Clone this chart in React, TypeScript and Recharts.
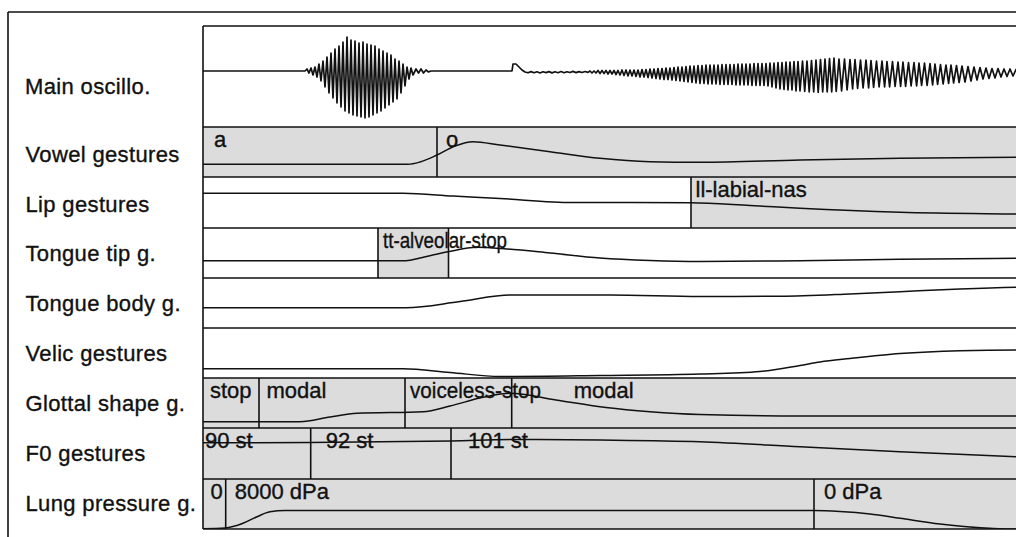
import React from 'react';
import { ComposedChart, Line, XAxis, YAxis, ReferenceArea, ReferenceLine } from 'recharts';

// time axis: 0..830 (ms), 1 unit per pixel, plot starts at x=203
const T_MAX = 830;

const tierNames = [
  'Vowel gestures', 'Lip gestures', 'Tongue tip g.', 'Tongue body g.',
  'Velic gestures', 'Glottal shape g.', 'F0 gestures', 'Lung pressure g.',
];

// gestures: [start, end, label, active]
type Gesture = [number, number, string, boolean];

const vowelGestures: Gesture[] = [[0, 234, 'a', true], [234, 830, 'o', true]];
const lipGestures: Gesture[] = [[0, 488, '', false], [488, 830, 'll-labial-nas', true]];
const tongueTipGestures: Gesture[] = [[0, 175, '', false], [175, 245.5, 'tt-alveolar-stop', true], [245.5, 830, '', false]];
const tongueBodyGestures: Gesture[] = [[0, 830, '', false]];
const velicGestures: Gesture[] = [[0, 830, '', false]];
const glottalGestures: Gesture[] = [
  [0, 56, 'stop', true], [56, 202, 'modal', true], [202, 308.7, 'voiceless-stop', true], [308.7, 830, 'modal', true],
];
const f0Gestures: Gesture[] = [[0, 107.7, '90 st', true], [107.7, 248, '92 st', true], [248, 830, '101 st', true]];
const lungGestures: Gesture[] = [[0, 22.7, '0', true], [22.7, 611, '8000 dPa', true], [611, 830, '0 dPa', true]];

// tier trajectories: [t, value]
const vowelCurve = [[0, 12.7], [205, 12.7], [217, 15], [234, 22], [252, 31], [270, 35.3], [297, 32], [347, 25.3], [397, 18.7], [447, 15.3], [497, 14.7], [597, 17], [697, 18.7], [813, 19.7], [830, 19.8]];
const lipCurve = [[0, 34.7], [200, 34.7], [250, 32], [297, 29.5], [370, 25.5], [488, 25.3], [547, 22.5], [597, 19.7], [697, 15.7], [813, 14], [830, 13.8]];
const tongueTipCurve = [[0, 17.3], [203, 17.3], [217, 20], [245, 26.3], [274, 30.7], [304, 29], [347, 25], [397, 20], [447, 17.5], [497, 16.5], [597, 17.3], [697, 18.7], [813, 19.7], [830, 19.8]];
const tongueBodyCurve = [[0, 20.3], [203, 20.3], [257, 26.5], [307, 33], [407, 33], [497, 31.5], [577, 31.7], [647, 34], [697, 36.3], [757, 39], [813, 40.7], [830, 41]];
const velicCurve = [[0, 9.3], [200, 9.3], [247, 5.5], [297, 1.5], [397, 2.5], [497, 4], [557, 6.5], [597, 12.5], [617, 16], [647, 19.5], [697, 24.5], [757, 27.3], [813, 28], [830, 28]];
const glottalCurve = [[0, 6.3], [97, 6.3], [127, 11], [154, 14.7], [220, 16.3], [247, 22], [280, 30.7], [307, 34.7], [353, 28], [403, 20.5], [447, 16.3], [497, 13.5], [597, 12], [813, 12], [830, 12]];
const f0Curve = [[0, 36.3], [107, 36.5], [248, 38], [317, 39.5], [397, 39], [497, 37.3], [597, 32.3], [697, 27.3], [813, 22.3], [830, 21.5]];
const lungCurve = [[0, 0.3], [22, 1], [40, 5.7], [54, 12.3], [67, 17.3], [82, 18.5], [611, 18.5], [637, 17.5], [667, 15], [697, 10.7], [737, 5], [764, 2.3], [813, 0], [830, 0]];

// main oscillogram samples: [t, amplitude]
const oscilloSamples = [
  [0, 0], [102, 0],
  [104, 2], [106, -2], [108, 3], [110, -4], [112, 4], [114, -6], [116, 7], [118, -10],
  [120, 10], [122, -16], [124, 14], [126, -22], [128, 18], [130, -27], [132, 22], [134, -32],
  [136, 25], [138, -36], [140, 29], [142, -40], [144, 34], [146, -42], [148, 31], [150, -44],
  [152, 30], [154, -45], [156, 28], [158, -46], [160, 29], [162, -47], [164, 27], [166, -46],
  [168, 26], [170, -44], [172, 25], [174, -42], [176, 22], [178, -40], [180, 20], [182, -37],
  [184, 18], [186, -34], [188, 16], [190, -31], [192, 12], [194, -28], [196, 10], [198, -22],
  [200, 7], [202, -15], [204, 4], [206, -8], [208, 3], [210, -4], [213, 2], [215.5, -2],
  [218, 2], [220.5, -2], [223, 1], [225.5, -1], [228, 0],
  [309, 0], [310, 7], [313, 7], [316, 4], [319, 1],
  [322, -1], [325, -1.8], [328, -0.6], [331, -1.8], [334, -0.8], [337, -2], [340, -0.7], [343, -1.6],
  [346, -0.6], [349, -1.9], [352, -0.8], [355, -1.7], [358, -0.5], [361, -1.8], [364, -0.7], [367, -1.5],
  [370, -0.4], [373, -1.6], [376, -0.6], [379, -1.5], [382, -0.5], [385, -1.4],
  [387, 0], [389, -2], [391, 0], [393, -2], [395, 0.5], [397, -2.5], [399, 0.5], [401, -2.5],
  [403, 0.5], [405, -3], [407, 0.5], [409, -3], [411, 0.5], [413, -3.5], [415, 0.5], [417, -4],
  [419, 1], [421, -4.5], [423, 1], [425, -5], [427, 1], [429, -5], [431, 1], [433, -5.5],
  [435, 1], [437, -6], [439, 1.5], [441, -6], [443, 1.5], [445, -6.5], [447, 2], [449, -7],
  [451, 2], [453, -7.5], [455, 2.5], [457, -8], [459, 2.5], [461, -8.5], [463, 3], [465, -8.5],
  [467, 3], [469, -9], [471, 3.5], [473, -9.5], [475, 4], [477, -10], [479, 4], [481, -10.5],
  [483, 4.5], [485, -11], [487, 5], [489, -11.5], [491, 5], [493, -12], [495, 5.5], [497, -12.5],
  [499, 5.5], [501, -12.5], [503, 6], [505, -13], [507, 6], [509, -13], [511, 6], [513, -13],
  [515, 6], [517, -13.5], [519, 6.5], [521, -13.5], [523, 6.5], [525, -13.5], [527, 6.5], [529, -13.5],
  [531, 6.5], [533, -14], [535, 7], [537, -14], [539, 7], [541, -14], [543, 7], [545, -14],
  [547, 7], [549, -14.5], [551, 7.5], [553, -14.5], [555, 7.5], [557, -14.5], [559, 7.5], [561, -14.5],
  [563, 7.5], [565, -15], [567, 8], [569, -16], [571, 8], [573, -17], [575, 8.5], [577, -18],
  [579, 8.5], [581, -18.5], [583, 9], [585, -19], [587, 9], [589, -19], [591, 9.5], [593, -20],
  [595, 9.5], [597, -20],
  [599.5, 10], [601.7, -20.5], [604, 10], [606.2, -21], [608.5, 10.5], [610.7, -21], [613, 11], [615.2, -21.5],
  [617.5, 11.5], [619.7, -21], [622, 12], [624.2, -21], [626.5, 12.5], [628.7, -21], [631, 13], [633.2, -20.5],
  [636, 12], [638.6, -20], [641.5, 12], [644.1, -19], [647, 11.5], [649.6, -18], [652, 11.5], [654.6, -17.5],
  [657.5, 11], [660.1, -17], [663, 11], [665.6, -17], [668, 10.5], [670.6, -16.5], [673.5, 10], [676.1, -16],
  [679, 10], [681.6, -16], [684, 9.5], [686.6, -16], [689.5, 9.5], [692.1, -15.5], [695, 9], [697.6, -15.5],
  [700, 9], [702.6, -15.5], [705.5, 8.5], [708.1, -15], [711, 8.5], [713.6, -15], [716, 8], [718.6, -14.5],
  [721.5, 8], [724.1, -14.5], [727, 7.5], [729.6, -14], [732, 7], [734.6, -13.5], [737.5, 6.5], [740.1, -13],
  [743, 6], [745.6, -12.5], [748, 6], [750.6, -12], [753.5, 5.5], [756.1, -11.5],
  [759, 5], [762, -11], [765, 4.5], [768, -10], [771, 4], [774, -9], [777, 3.5], [780, -8],
  [783, 3], [786, -7.5], [789, 2.5], [792, -7], [795, 2.5], [798, -6], [801, 2], [804, -5.5],
  [807, 2], [810, -5], [813, 1.5], [816, -4.5], [819, 1.5], [822, -4], [825, 1], [828, -3.5],
];

const tiers = [
  { gestures: vowelGestures, curve: vowelCurve },
  { gestures: lipGestures, curve: lipCurve },
  { gestures: tongueTipGestures, curve: tongueTipCurve },
  { gestures: tongueBodyGestures, curve: tongueBodyCurve },
  { gestures: velicGestures, curve: velicCurve },
  { gestures: glottalGestures, curve: glottalCurve },
  { gestures: f0Gestures, curve: f0Curve },
  { gestures: lungGestures, curve: lungCurve },
];

// layout
const FONT = '"Liberation Sans", Arial, Helvetica, sans-serif';
const INK = '#111';
const GRAY = '#dcdcdc';
const PLOT_LEFT = 203;
const PLOT_TOP = 26;
const OSC_BOTTOM = 127;
const ROW_TOPS = [127, 177, 228, 278, 328, 378, 428, 479];
const ROW_BOTTOM = 529;
const NAME_BASELINES = [161.5, 211.5, 260.5, 310.5, 360.7, 410.5, 460.5, 510.5];
// horizontal offset of each gesture label from its gesture start (tier-gesture)
const LABEL_DX: Record<string, number> = {
  '0-0': 11, '0-1': 9, '1-1': 4.5, '2-1': 5,
  '5-0': 7, '5-1': 7.5, '5-2': 5, '5-3': 62,
  '6-0': 2, '6-1': 15, '6-2': 17,
  '7-0': 7.5, '7-1': 9, '7-2': 10,
};
// a few labels are squeezed in the original
const LABEL_LEN: Record<string, number> = { '2-1': 124, '5-2': 131 };

const toPts = (arr: number[][]) => arr.map(([t, v]) => ({ t, v }));

const Tier = ({ idx, gestures, curve, top, height }: any) => (
  <div style={{ position: 'absolute', left: PLOT_LEFT, top, width: T_MAX, height }}>
    <ComposedChart width={T_MAX} height={height} margin={{ top: 0, right: 0, bottom: 0, left: 0 }}>
      <XAxis type="number" dataKey="t" domain={[0, T_MAX]} hide allowDataOverflow />
      <YAxis type="number" domain={[0, height]} hide allowDataOverflow />
      {gestures.map((g: Gesture, i: number) => g[3] ? (
        <ReferenceArea key={`a${i}`} x1={g[0]} x2={g[1]} fill={GRAY} fillOpacity={1} stroke="none" />
      ) : null)}
      {gestures.map((g: Gesture, i: number) => g[2] ? (
        <ReferenceArea
          key={`l${i}`}
          x1={g[0]}
          x2={g[1]}
          fillOpacity={0}
          shape={(p: any) => {
            const len = LABEL_LEN[`${idx}-${i}`];
            return (
              <text
                x={p.x + (LABEL_DX[`${idx}-${i}`] ?? 6)}
                y={p.y + 20}
                fontFamily={FONT}
                fontSize={22}
                fill={INK}
                stroke={INK}
                strokeWidth={0.35}
                textLength={len}
                lengthAdjust={len ? 'spacingAndGlyphs' : undefined}
              >
                {g[2]}
              </text>
            );
          }}
        />
      ) : null)}
      {gestures.filter((g: Gesture) => g[0] > 0).map((g: Gesture, i: number) => (
        <ReferenceLine key={`b${i}`} x={g[0]} stroke={INK} strokeWidth={1.6} />
      ))}
      <Line
        data={toPts(curve)}
        dataKey="v"
        type="monotone"
        stroke={INK}
        strokeWidth={1.5}
        dot={false}
        activeDot={false}
        isAnimationActive={false}
      />
    </ComposedChart>
  </div>
);

export default function App() {
  const oscHeight = OSC_BOTTOM - PLOT_TOP;
  return (
    <div style={{ position: 'absolute', left: 0, top: 0, width: 1016, height: 537, overflow: 'hidden', background: '#fff' }}>
      <div style={{ position: 'absolute', left: PLOT_LEFT, top: PLOT_TOP, width: T_MAX, height: oscHeight }}>
        <ComposedChart width={T_MAX} height={oscHeight} margin={{ top: 0, right: 0, bottom: 0, left: 0 }}>
          <XAxis type="number" dataKey="t" domain={[0, T_MAX]} hide allowDataOverflow />
          <YAxis type="number" domain={[-56, 45]} hide allowDataOverflow />
          <Line
            data={toPts(oscilloSamples)}
            dataKey="v"
            type="linear"
            stroke={INK}
            strokeWidth={1.7}
            strokeLinejoin="round"
            dot={false}
            activeDot={false}
            isAnimationActive={false}
          />
        </ComposedChart>
      </div>
      {tiers.map((tier, i) => (
        <Tier
          key={i}
          idx={i}
          gestures={tier.gestures}
          curve={tier.curve}
          top={ROW_TOPS[i]}
          height={(ROW_TOPS[i + 1] ?? ROW_BOTTOM) - ROW_TOPS[i]}
        />
      ))}
      <svg width={1016} height={537} style={{ position: 'absolute', left: 0, top: 0 }}>
        <g stroke={INK} strokeWidth={1.6} fill="none">
          <line x1={8} y1={12} x2={1016} y2={12} />
          <line x1={8} y1={12} x2={8} y2={537} />
          <line x1={PLOT_LEFT} y1={PLOT_TOP} x2={PLOT_LEFT} y2={ROW_BOTTOM} />
          <line x1={PLOT_LEFT} y1={PLOT_TOP} x2={1016} y2={PLOT_TOP} />
          {ROW_TOPS.map((y) => (
            <line key={y} x1={PLOT_LEFT} y1={y} x2={1016} y2={y} />
          ))}
          <line x1={PLOT_LEFT} y1={ROW_BOTTOM} x2={1016} y2={ROW_BOTTOM} />
        </g>
        <g fontFamily={FONT} fontSize={22} fill={INK} stroke={INK} strokeWidth={0.35} letterSpacing={0.35}>
          <text x={25} y={94}>Main oscillo.</text>
          {tierNames.map((name, i) => (
            <text key={name} x={25.5} y={NAME_BASELINES[i]}>{name}</text>
          ))}
        </g>
      </svg>
    </div>
  );
}
